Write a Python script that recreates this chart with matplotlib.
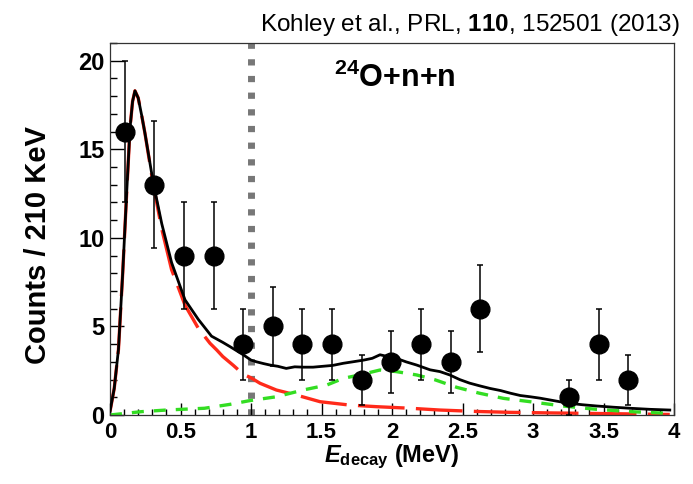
import matplotlib
matplotlib.use("Agg")
import matplotlib.pyplot as plt
from matplotlib.ticker import MultipleLocator

plt.rcParams['font.family'] = ['Liberation Sans', 'DejaVu Sans']
plt.rcParams['mathtext.fontset'] = 'custom'
plt.rcParams['mathtext.rm'] = 'Liberation Sans:bold'
plt.rcParams['mathtext.bf'] = 'Liberation Sans:bold'
plt.rcParams['mathtext.it'] = 'Liberation Sans:italic:bold'
plt.rcParams['mathtext.bfit'] = 'Liberation Sans:italic:bold'

# measured counts in 210 keV bins
e_bins = [0.105, 0.315, 0.525, 0.735, 0.945, 1.155, 1.365, 1.575,
          1.785, 1.995, 2.205, 2.415, 2.625, 3.255, 3.465, 3.675]
counts = [16, 13, 9, 9, 4, 5, 4, 4, 2, 3, 4, 3, 6, 1, 4, 2]
count_err = [4.0, 3.6, 3.0, 3.0, 2.0, 2.24, 2.0, 2.0,
             1.41, 1.73, 2.0, 1.73, 2.45, 1.0, 2.0, 1.41]

# total simulated spectrum
total_e = [0.0, 0.03, 0.06, 0.09, 0.118, 0.142, 0.16, 0.177, 0.20, 0.225,
           0.248, 0.307, 0.367, 0.437, 0.532, 0.626, 0.72, 0.80, 0.851, 0.945,
           1.0, 1.04, 1.09, 1.135, 1.19, 1.25, 1.31, 1.37, 1.44, 1.51,
           1.58, 1.655, 1.72, 1.80, 1.86, 1.915, 1.97, 2.03, 2.10, 2.175,
           2.27, 2.34, 2.41, 2.48, 2.55, 2.62, 2.695, 2.77, 2.84, 2.91,
           2.98, 3.05, 3.12, 3.19, 3.26, 3.35, 3.45, 3.57, 3.69, 3.83, 3.97]
total_y = [0.2, 1.5, 3.7, 8.0, 12.5, 16.2, 17.7, 18.3, 17.9, 16.9,
           15.9, 13.1, 10.8, 8.6, 6.5, 5.4, 4.45, 4.1, 3.86, 3.4,
           3.1, 3.0, 2.9, 2.82, 2.75, 2.63, 2.72, 2.7, 2.7, 2.75,
           2.8, 2.92, 3.0, 3.1, 3.2, 3.4, 3.3, 3.2, 3.0, 2.82,
           2.55, 2.45, 2.26, 2.0, 1.8, 1.65, 1.5, 1.38, 1.23, 1.1,
           1.03, 0.95, 0.85, 0.75, 0.66, 0.58, 0.51, 0.44, 0.38, 0.32, 0.28]

# 24O(2+) -> 24O+n+n component
low_e = [0.0, 0.03, 0.06, 0.09, 0.118, 0.142, 0.16, 0.177, 0.20, 0.225,
         0.248, 0.307, 0.367, 0.437, 0.532, 0.626, 0.709, 0.757, 0.80, 0.875,
         0.945, 1.0, 1.064, 1.18, 1.32, 1.49, 1.70, 1.89, 2.13, 2.34,
         2.6, 2.84, 3.1, 3.4, 3.7, 3.97]
low_y = [0.2, 1.5, 3.7, 8.0, 12.5, 16.2, 17.7, 18.3, 17.9, 16.9,
         15.9, 13.0, 10.5, 8.2, 6.2, 4.9, 4.05, 3.67, 3.3, 2.8,
         2.3, 2.1, 1.79, 1.41, 1.13, 0.75, 0.56, 0.47, 0.38, 0.28,
         0.2, 0.15, 0.12, 0.09, 0.06, 0.03]

# broad higher-energy component
high_e = [0.0, 0.225, 0.40, 0.67, 0.85, 0.99, 1.18, 1.37, 1.537, 1.655,
          1.77, 1.915, 2.03, 2.175, 2.30, 2.46, 2.62, 2.79, 2.98, 3.21,
          3.45, 3.69, 3.97]
high_y = [0.0, 0.19, 0.28, 0.38, 0.6, 0.81, 1.03, 1.41, 1.69, 2.07,
          2.26, 2.54, 2.45, 2.26, 2.0, 1.56, 1.23, 0.94, 0.75, 0.51,
          0.32, 0.19, 0.09]

threshold = 1.0

fig = plt.figure(figsize=(6.93, 4.84), dpi=100)
ax = fig.add_axes([110 / 693, 69 / 484, 564 / 693, 372 / 484])

ax.axvline(threshold, color='#777777', lw=5, linestyle=(0, (0.9, 1.5)),
           dash_capstyle='butt', zorder=1)
ax.plot(low_e, low_y, color='#ff2a1a', lw=2.4, linestyle=(0, (14, 3.4)),
        zorder=2)
ax.plot(high_e, high_y, color='#33dd22', lw=2.4, linestyle=(0, (3.6, 3)),
        zorder=2)
ax.plot(total_e, total_y, color='black', lw=2.0, zorder=3)
ax.errorbar(e_bins, counts, yerr=count_err, fmt='o', color='black',
            ms=13.5, elinewidth=1.1, capsize=2.5, capthick=1.1, zorder=4)

ax.set_xlim(0, 4)
ax.set_ylim(0, 21)
ax.xaxis.set_major_locator(MultipleLocator(0.5))
ax.xaxis.set_minor_locator(MultipleLocator(0.1))
ax.yaxis.set_major_locator(MultipleLocator(5))
ax.yaxis.set_minor_locator(MultipleLocator(1))
ax.set_xticks([0, 0.5, 1, 1.5, 2, 2.5, 3, 3.5, 4])
ax.set_xticklabels(['0', '0.5', '1', '1.5', '2', '2.5', '3', '3.5', '4'])
ax.tick_params(axis='both', which='both', direction='in', top=False,
               right=False, color='black', width=1)
ax.tick_params(axis='x', which='major', length=8.5, labelsize=16, pad=5)
ax.tick_params(axis='x', which='minor', length=4.3)
ax.tick_params(axis='y', which='major', length=10, labelsize=17, pad=4)
ax.tick_params(axis='y', which='minor', length=5)
for lab in ax.get_xticklabels() + ax.get_yticklabels():
    lab.set_fontweight('bold')
for sp in ax.spines.values():
    sp.set_color('#333333')
    sp.set_linewidth(0.9)

ax.set_ylabel('Counts / 210 KeV', fontsize=21, fontweight='bold')
ax.yaxis.set_label_coords(-0.102, 0.457)
ax.set_xlabel(r'$\mathbfit{E}_{\mathbf{decay}}$ (MeV)', fontsize=17,
              fontweight='bold', labelpad=0)

ax.text(1.59, 18.5, r'$^{\mathbf{24}}$O+n+n', fontsize=22, fontweight='bold',
        ha='left', va='baseline')
fig.text(680 / 693, 1 - 31 / 484, r'Kohley et al., PRL, $\mathbf{110}$, 152501 (2013)',
         fontsize=17.5, ha='right', va='baseline')

fig.savefig('out.png', dpi=100)
